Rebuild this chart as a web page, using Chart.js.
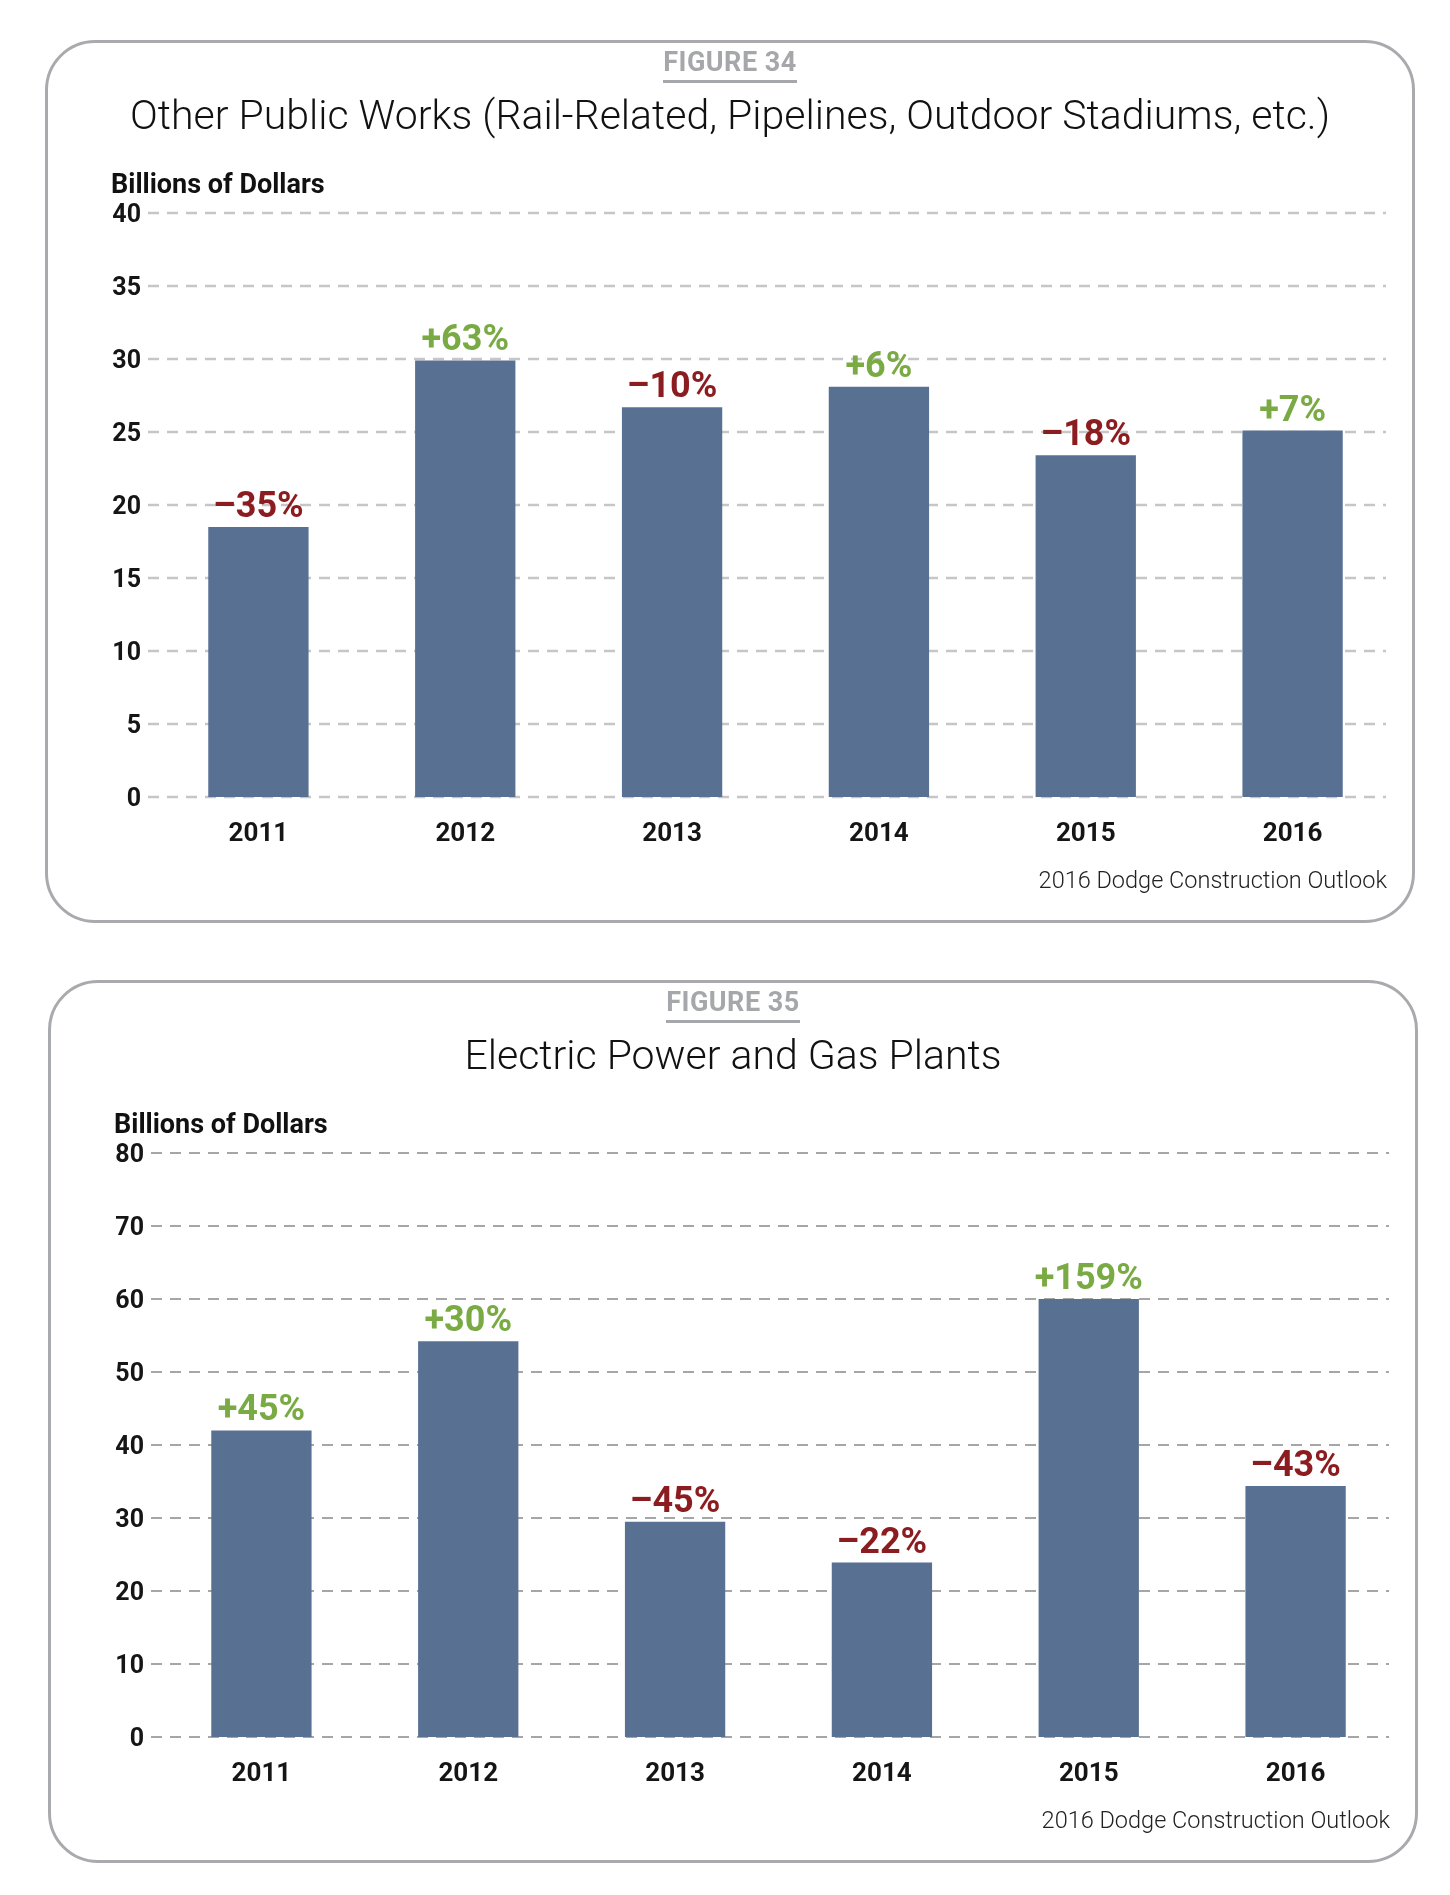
<!DOCTYPE html>
<html>
<head>
  <meta charset="UTF-8">
  <title>2016 Dodge Construction Outlook - Figures 34 and 35</title>
  <script src="https://cdn.jsdelivr.net/npm/chart.js@4.4.1/dist/chart.umd.min.js"></script>
  <style>
    body {
      margin: 0;
      width: 1450px;
      height: 1895px;
      background: #fff;
      font-family: Roboto, "Open Sans", sans-serif;
      color: #151515;
      position: relative;
    }
    .card {
      position: absolute;
      width: 1364px;
      height: 877px;
      border: 3px solid #a9aaad;
      border-radius: 50px;
    }
    .card canvas { position: absolute; left: 0; top: 0; }
    .fig {
      position: absolute; left: 0; top: 6px; width: 100%;
      text-align: center;
    }
    .fig span {
      display: inline-block;
      font-size: 27px; line-height: 27px; font-weight: 700;
      letter-spacing: 0.5px;
      color: #a6a7aa;
      padding-bottom: 4px;
      border-bottom: 3px solid #a6a7aa;
    }
    .title {
      position: absolute; left: 0; top: 52px; width: 100%;
      text-align: center;
      font-size: 41px; line-height: 41px; font-weight: 300;
      color: #111;
    }
    .unit {
      position: absolute; left: 63px; top: 128px;
      font-size: 27px; line-height: 27px; font-weight: 700;
      color: #111;
    }
    .source {
      position: absolute; right: 25px; top: 826px;
      font-size: 23.5px; line-height: 23.5px; font-weight: 300;
      color: #222;
    }
  </style>
</head>
<body>
  <div class="card" style="left:45px; top:40px;">
    <canvas id="chart34" width="1364" height="877"></canvas>
    <div class="fig"><span>FIGURE 34</span></div>
    <div class="title">Other Public Works (Rail-Related, Pipelines, Outdoor Stadiums, etc.)</div>
    <div class="unit">Billions of Dollars</div>
    <div class="source">2016 Dodge Construction Outlook</div>
  </div>

  <div class="card" style="left:48px; top:980px;">
    <canvas id="chart35" width="1364" height="877"></canvas>
    <div class="fig"><span>FIGURE 35</span></div>
    <div class="title">Electric Power and Gas Plants</div>
    <div class="unit">Billions of Dollars</div>
    <div class="source">2016 Dodge Construction Outlook</div>
  </div>

  <script>
    const years = ['2011', '2012', '2013', '2014', '2015', '2016'];

    // Figure 34: Other Public Works
    const publicWorks = [18.5, 29.9, 26.7, 28.1, 23.4, 25.1];
    const publicWorksChange = ['–35%', '+63%', '–10%', '+6%', '–18%', '+7%'];
    const publicWorksTicks = [0, 5, 10, 15, 20, 25, 30, 35, 40];

    // Figure 35: Electric Power and Gas Plants
    const powerPlants = [42.0, 54.2, 29.5, 23.9, 60.0, 34.4];
    const powerPlantsChange = ['+45%', '+30%', '–45%', '–22%', '+159%', '–43%'];
    const powerPlantsTicks = [0, 10, 20, 30, 40, 50, 60, 70, 80];

    const BAR_COLOR = '#587193';
    const UP_COLOR = '#79aa43';
    const DOWN_COLOR = '#8b1c1f';
    const TEXT_COLOR = '#151515';
    const FONT = 'Roboto, "Open Sans", sans-serif';

    // dashed horizontal lines, a bit wider on the left than the bars' area
    const dashedGrid = {
      id: 'dashedGrid',
      beforeDatasetsDraw(chart, args, opts) {
        const { ctx, chartArea, scales: { y } } = chart;
        ctx.save();
        ctx.strokeStyle = opts.color;
        ctx.lineWidth = opts.width;
        ctx.setLineDash([11, 8]);
        y.ticks.forEach(t => {
          const py = y.getPixelForValue(t.value);
          ctx.beginPath();
          ctx.moveTo(chartArea.left - 7, py);
          ctx.lineTo(chartArea.right - 10, py);
          ctx.stroke();
        });
        ctx.restore();
      }
    };

    // percent change written above each bar
    const changeLabels = {
      id: 'changeLabels',
      afterDatasetsDraw(chart, args, opts) {
        const { ctx } = chart;
        const bars = chart.getDatasetMeta(0).data;
        ctx.save();
        ctx.font = 'bold 36px ' + FONT;
        ctx.textAlign = 'center';
        ctx.textBaseline = 'alphabetic';
        bars.forEach((bar, i) => {
          const txt = opts.labels[i];
          ctx.fillStyle = txt.startsWith('+') ? UP_COLOR : DOWN_COLOR;
          ctx.fillText(txt, bar.x, bar.y - 10);
        });
        ctx.restore();
      }
    };

    function makeChart(id, values, changes, ticks, gridColor, gridWidth) {
      return new Chart(document.getElementById(id), {
        type: 'bar',
        data: {
          labels: years,
          datasets: [{
            data: values,
            backgroundColor: BAR_COLOR,
            barPercentage: 0.485,
            categoryPercentage: 1
          }]
        },
        options: {
          responsive: false,
          animation: false,
          layout: { padding: { left: 0, right: 16, top: 170, bottom: 63 } },
          plugins: {
            legend: { display: false },
            tooltip: { enabled: false },
            dashedGrid: { color: gridColor, width: gridWidth },
            changeLabels: { labels: changes }
          },
          scales: {
            x: {
              grid: { display: false, drawTicks: false },
              border: { display: false },
              ticks: { color: TEXT_COLOR, padding: 22, font: { family: FONT, size: 26, weight: 'bold' } },
              afterFit: s => { s.height = 60; }
            },
            y: {
              min: 0,
              max: ticks[ticks.length - 1],
              grid: { display: false, drawTicks: false },
              border: { display: false },
              ticks: { color: TEXT_COLOR, padding: 14, labelOffset: 3, font: { family: FONT, size: 25, weight: 'bold' } },
              afterBuildTicks: s => { s.ticks = ticks.map(v => ({ value: v })); },
              afterFit: s => { s.width = 107; }
            }
          }
        },
        plugins: [dashedGrid, changeLabels]
      });
    }

    makeChart('chart34', publicWorks, publicWorksChange, publicWorksTicks, '#c6c6c6', 2.5);
    makeChart('chart35', powerPlants, powerPlantsChange, powerPlantsTicks, '#a6a6a6', 1.8);
  </script>
</body>
</html>
